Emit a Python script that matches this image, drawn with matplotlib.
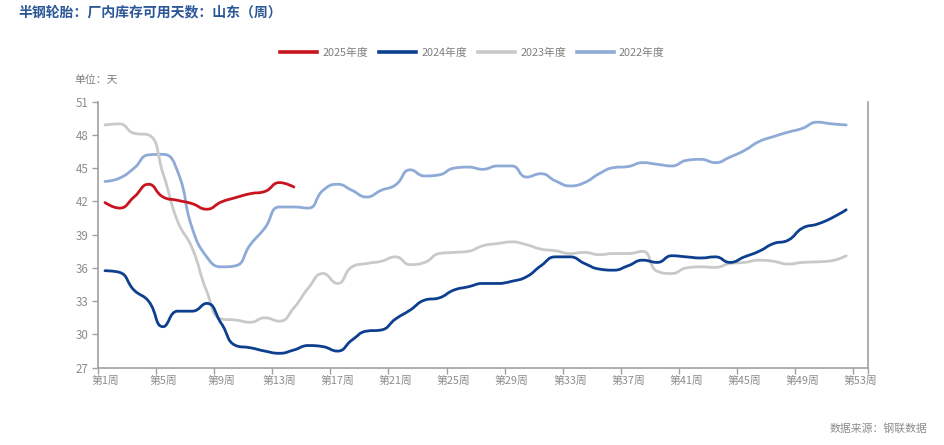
import numpy as np
import matplotlib.pyplot as plt
from matplotlib.path import Path
from matplotlib.patches import PathPatch
from matplotlib.lines import Line2D

plt.rcParams['font.family'] = ['Noto Sans CJK SC', 'DejaVu Sans']

# categories on the x axis
weeks = list(range(1, 54))
label_weeks = weeks[::4]          # 第1周, 第5周, ... 第53周
week_labels = [f"第{w}周" for w in label_weeks]

# series (days)
y2025 = [41.9, 41.4, 42.4, 43.55, 42.4, 42.1, 41.8, 41.3, 41.95, 42.35,
         42.7, 42.9, 43.7, 43.3]
y2024 = [35.75, 35.6, 34.0, 33.0, 30.7, 32.1, 32.1, 32.8, 31.0, 29.0,
         28.8, 28.5, 28.3, 28.6, 29.0, 28.9, 28.5, 29.5, 30.3, 30.4,
         31.4, 32.2, 33.1, 33.3, 34.0, 34.3, 34.6, 34.6, 34.8, 35.2,
         36.2, 37.0, 37.0, 36.4, 35.9, 35.8, 36.2, 36.7, 36.5, 37.1,
         37.0, 36.9, 37.0, 36.5, 37.0, 37.5, 38.2, 38.5, 39.6, 39.95,
         40.5, 41.25]
y2023 = [48.9, 49.0, 48.15, 48.0, 44.5, 40.2, 37.8, 33.9, 31.4, 31.3,
         31.1, 31.5, 31.2, 32.4, 34.2, 35.5, 34.6, 36.1, 36.4, 36.6,
         37.0, 36.3, 36.5, 37.3, 37.4, 37.5, 38.0, 38.2, 38.35, 38.1,
         37.7, 37.55, 37.3, 37.4, 37.2, 37.3, 37.3, 37.5, 35.7, 35.5,
         36.0, 36.1, 36.05, 36.4, 36.5, 36.7, 36.6, 36.35, 36.5, 36.55,
         36.65, 37.1]
y2022 = [43.8, 44.1, 45.0, 46.2, 46.25, 44.7, 39.6, 37.0, 36.1, 36.2,
         38.1, 39.6, 41.5, 41.5, 41.4, 43.0, 43.55, 43.0, 42.4, 43.0,
         43.5, 44.85, 44.3, 44.4, 45.0, 45.1, 44.9, 45.2, 45.2, 44.2,
         44.5, 43.85, 43.4, 43.7, 44.5, 45.05, 45.15, 45.5, 45.35, 45.2,
         45.7, 45.8, 45.5, 46.0, 46.6, 47.4, 47.85, 48.25, 48.6, 49.15,
         49.0, 48.9]

series = [
    ("2025年度", y2025, "#c8141e"),
    ("2024年度", y2024, "#0d3f8f"),
    ("2023年度", y2023, "#c9c9c9"),
    ("2022年度", y2022, "#8eaad6"),
]


def smooth_path(xs, ys, s=0.5, sx=14.5, sy=11.08):
    # bezier through the points, echarts-like smoothing (clamped control points)
    P = np.column_stack([np.asarray(xs, float) * sx, np.asarray(ys, float) * sy])
    n = len(P)
    cin = P.copy()
    cout = P.copy()
    for i in range(1, n - 1):
        prev, cur, nxt = P[i - 1], P[i], P[i + 1]
        v = nxt - prev
        l0 = np.hypot(*(cur - prev))
        l1 = np.hypot(*(nxt - cur))
        r1 = l1 / (l0 + l1)
        nc = cur + v * s * r1
        nc = np.clip(nc, np.minimum(cur, nxt), np.maximum(cur, nxt))
        v = nc - cur
        pc = cur - v * l0 / l1
        pc = np.clip(pc, np.minimum(prev, cur), np.maximum(prev, cur))
        v = cur - pc
        nc = cur + v * l1 / l0
        cin[i] = pc
        cout[i] = nc
    verts = [P[0]]
    codes = [Path.MOVETO]
    for i in range(n - 1):
        verts += [cout[i], cin[i + 1], P[i + 1]]
        codes += [Path.CURVE4] * 3
    verts = np.array(verts) / [sx, sy]
    return Path(verts, codes)


fig = plt.figure(figsize=(9.45, 4.45), dpi=100)
ax = fig.add_axes([0.1034, 0.1737, 0.8151, 0.5978])

axis_col = "#a0a0a0"
text_col = "#8c8c8c"

handles = []
for name, vals, col in reversed(series):
    xs = weeks[:len(vals)]
    patch = PathPatch(smooth_path(xs, vals), fill=False, edgecolor=col,
                      lw=2.0, capstyle='round', joinstyle='round')
    ax.add_patch(patch)
for name, vals, col in series:
    handles.append(Line2D([], [], color=col, lw=2.6, label=name))

ax.set_xlim(0.5, 53.5)
ax.set_ylim(27, 51)
ax.set_yticks(np.arange(27, 52, 3))

# ticks on band boundaries, labels at band centres
ax.set_xticks([w - 0.5 for w in label_weeks] + [53.5])
ax.set_xticklabels([])
ax.set_xticks(label_weeks, minor=True)
ax.set_xticklabels(week_labels, minor=True)
ax.tick_params(axis='x', which='major', length=4, width=1, color=axis_col)
ax.tick_params(axis='x', which='minor', length=0, pad=6, labelsize=7.8,
               labelcolor=text_col)
ax.tick_params(axis='y', length=4, width=1, color=axis_col, pad=2.5,
               labelsize=8.3, labelcolor=text_col)

for side in ("left", "bottom", "right"):
    ax.spines[side].set_color(axis_col)
    ax.spines[side].set_linewidth(1.2)
ax.spines["top"].set_visible(False)

fig.text(0.019, 0.972, "半钢轮胎：厂内库存可用天数：山东（周）", color="#2b5797",
         fontsize=10, fontweight="bold", ha="left", va="center")
fig.text(0.079, 0.820, "单位：天", color="#7f7f7f", fontsize=7.8,
         ha="left", va="center")
fig.text(0.981, 0.038, "数据来源：钢联数据", color="#8c8c8c", fontsize=7.8,
         ha="right", va="center")

fig.legend(handles=handles, loc="center", bbox_to_anchor=(0.5, 0.881), ncol=4,
           frameon=False, fontsize=7.8, handlelength=3.4, handletextpad=0.5,
           columnspacing=1.0, labelcolor="#7f7f7f")

fig.savefig("out.png", dpi=100)
